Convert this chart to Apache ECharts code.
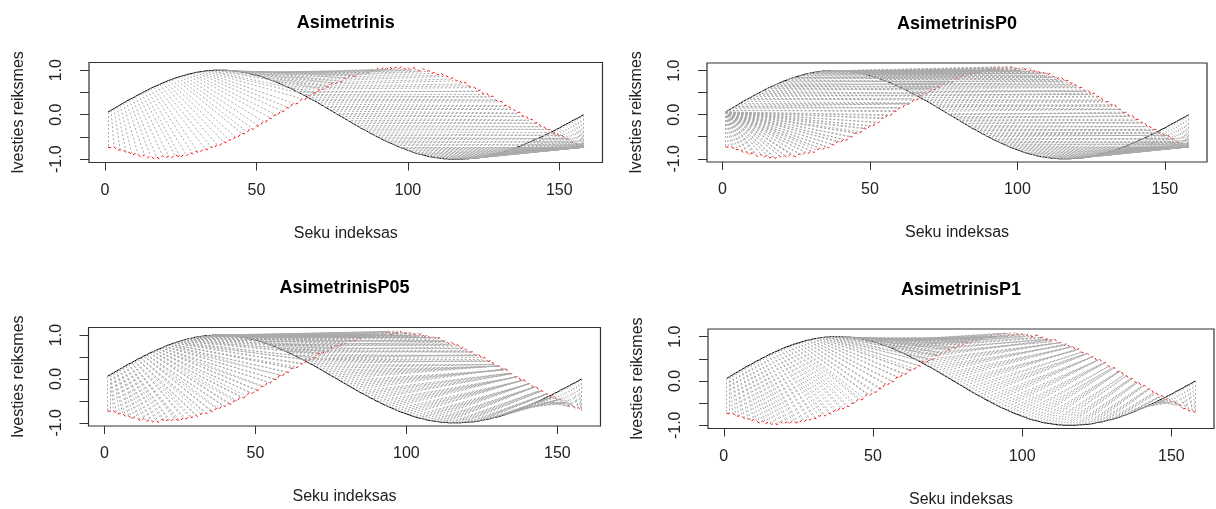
<!DOCTYPE html>
<html>
<head>
<meta charset="utf-8">
<script src="https://cdn.jsdelivr.net/npm/echarts@6/dist/echarts.min.js"></script>
<style>
html, body { margin: 0; padding: 0; background: #ffffff; }
#chart { width: 1216px; height: 509px; }
</style>
</head>
<body>
<div id="chart"></div>
<script>
// Query series (black, solid), one value per index 1..158
const queryValues = [
  0.06, 0.10, 0.14, 0.18, 0.22, 0.26, 0.30, 0.34, 0.37, 0.41,
  0.45, 0.48, 0.52, 0.55, 0.59, 0.62, 0.65, 0.68, 0.71, 0.74,
  0.77, 0.79, 0.82, 0.84, 0.86, 0.88, 0.90, 0.92, 0.93, 0.95,
  0.96, 0.97, 0.98, 0.99, 0.99, 1.00, 1.00, 1.00,
  1.00, 1.00, 0.99, 0.99, 0.98, 0.97, 0.96, 0.95, 0.94, 0.92,
  0.90, 0.89, 0.87, 0.85, 0.82, 0.80, 0.77, 0.75, 0.72, 0.69,
  0.66, 0.63, 0.60, 0.57, 0.53, 0.50, 0.46, 0.43, 0.39, 0.35,
  0.32, 0.28, 0.24, 0.20, 0.16, 0.12, 0.08, 0.04, 0.00, -0.04,
  -0.08, -0.12, -0.16, -0.20, -0.24, -0.28, -0.32, -0.35, -0.39, -0.43,
  -0.46, -0.50, -0.53, -0.57, -0.60, -0.63, -0.66, -0.69, -0.72, -0.75,
  -0.77, -0.80, -0.82, -0.85, -0.87, -0.89, -0.90, -0.92, -0.94, -0.95,
  -0.96, -0.97, -0.98, -0.99, -0.99, -1.00, -1.00, -1.00,
  -1.00, -1.00, -0.99, -0.99, -0.98, -0.98, -0.97, -0.96, -0.94, -0.93,
  -0.92, -0.90, -0.88, -0.87, -0.85, -0.83, -0.81, -0.78, -0.76, -0.73,
  -0.71, -0.68, -0.65, -0.62, -0.59, -0.56, -0.53, -0.50, -0.47, -0.43,
  -0.40, -0.37, -0.33, -0.30, -0.26, -0.22, -0.19, -0.15, -0.11, -0.08,
  -0.04, 0.00
];

// Reference series (red, dashed), one value per index 1..158
const referenceValues = [
  -0.73, -0.74, -0.72, -0.80, -0.79, -0.78, -0.86, -0.84, -0.91, -0.87,
  -0.90, -0.96, -0.90, -0.97, -0.92, -0.98, -0.95, -0.99, -0.92, -0.97,
  -0.93, -0.97, -0.90, -0.93, -0.96, -0.89, -0.92, -0.85, -0.88, -0.82,
  -0.86, -0.80, -0.76, -0.79, -0.72, -0.75, -0.67, -0.69, -0.60, -0.63,
  -0.56, -0.58, -0.50, -0.50, -0.41, -0.43, -0.39, -0.30, -0.33, -0.25,
  -0.26, -0.17, -0.18, -0.07, -0.09, 0.00, -0.02, 0.09, 0.07, 0.16,
  0.15, 0.25, 0.24, 0.27, 0.36, 0.33, 0.44, 0.42, 0.49, 0.48,
  0.59, 0.56, 0.64, 0.62, 0.72, 0.69, 0.76, 0.73, 0.83, 0.80,
  0.89, 0.86, 0.87, 0.95, 0.91, 0.98, 0.94, 1.01, 0.98, 1.04,
  0.99, 1.07, 1.02, 1.08, 1.01, 1.07, 1.03, 1.09, 1.02, 1.06,
  1.00, 1.06, 1.01, 0.98, 1.04, 0.97, 0.99, 0.93, 0.96, 0.89,
  0.94, 0.86, 0.87, 0.80, 0.84, 0.76, 0.78, 0.69, 0.73, 0.65,
  0.61, 0.62, 0.53, 0.56, 0.46, 0.49, 0.40, 0.42, 0.33, 0.29,
  0.30, 0.20, 0.23, 0.13, 0.12, 0.04, 0.06, -0.04, -0.02, -0.12,
  -0.10, -0.19, -0.17, -0.27, -0.27, -0.35, -0.33, -0.42, -0.40, -0.48,
  -0.46, -0.55, -0.54, -0.63, -0.61, -0.68, -0.65, -0.73
];

const panelTitles = ['Asimetrinis', 'AsimetrinisP0', 'AsimetrinisP05', 'AsimetrinisP1'];
const xTickValues = [0, 50, 100, 150];
const yTickValues = [-1, -0.5, 0, 0.5, 1];
const yLabelValues = [-1, 0, 1];
const xAxisTitle = 'Seku indeksas';
const yAxisTitle = 'Ivesties reiksmes';

// Step patterns (query offset di, reference offset dj, weight); first row is the origin cell.
const stepPatterns = {
  Asimetrinis: [
    [[1, 0, -1], [0, 0, 1]],
    [[1, 1, -1], [0, 0, 1]],
    [[1, 2, -1], [0, 0, 1]]
  ],
  AsimetrinisP0: [
    [[0, 1, -1], [0, 0, 0]],
    [[1, 1, -1], [0, 0, 1]],
    [[1, 0, -1], [0, 0, 1]]
  ],
  AsimetrinisP05: [
    [[1, 3, -1], [0, 2, 1 / 3], [0, 1, 1 / 3], [0, 0, 1 / 3]],
    [[1, 2, -1], [0, 1, 0.5], [0, 0, 0.5]],
    [[1, 1, -1], [0, 0, 1]],
    [[2, 1, -1], [1, 0, 1], [0, 0, 1]],
    [[3, 1, -1], [2, 0, 1], [1, 0, 1], [0, 0, 1]]
  ],
  AsimetrinisP1: [
    [[1, 2, -1], [0, 1, 0.5], [0, 0, 0.5]],
    [[1, 1, -1], [0, 0, 1]],
    [[2, 1, -1], [1, 0, 1], [0, 0, 1]]
  ]
};

// Dynamic time warping alignment of query against reference for a step pattern.
function warpingPath(x, y, pattern) {
  const n = x.length, m = y.length;
  const dist = (i, j) => Math.abs(x[i] - y[j]);
  const cost = [], dir = [];
  for (let i = 0; i < n; i++) {
    cost.push(new Float64Array(m).fill(Infinity));
    dir.push(new Int8Array(m).fill(-1));
  }
  cost[0][0] = dist(0, 0);
  for (let i = 0; i < n; i++) {
    for (let j = 0; j < m; j++) {
      if (i === 0 && j === 0) continue;
      let best = Infinity, bestS = -1;
      for (let s = 0; s < pattern.length; s++) {
        const steps = pattern[s];
        const oi = i - steps[0][0], oj = j - steps[0][1];
        if (oi < 0 || oj < 0) continue;
        let c = cost[oi][oj];
        if (!isFinite(c)) continue;
        for (let k = 1; k < steps.length; k++) {
          c += steps[k][2] * dist(i - steps[k][0], j - steps[k][1]);
        }
        if (c < best) { best = c; bestS = s; }
      }
      cost[i][j] = best;
      dir[i][j] = bestS;
    }
  }
  const path = [[n - 1, m - 1]];
  let i = n - 1, j = m - 1;
  while ((i > 0 || j > 0) && dir[i][j] >= 0) {
    const steps = pattern[dir[i][j]];
    for (let k = steps.length - 2; k >= 0; k--) {
      path.push([i - steps[k][0], j - steps[k][1]]);
    }
    const ni = i - steps[0][0], nj = j - steps[0][1];
    i = ni; j = nj;
  }
  return path;
}

// Plot-region boxes of the four panels (pixels)
const boxes = [
  { left: 89, top: 62.5, right: 602.5, bottom: 162.5 },
  { left: 707, top: 63, right: 1207, bottom: 162 },
  { left: 88.5, top: 327.5, right: 600.5, bottom: 426 },
  { left: 708, top: 329, right: 1214, bottom: 428.5 }
];

const FONT = 'Liberation Sans, Arial, sans-serif';
const xMin = -5.28, xMax = 164.28;
const yMin = -1.073, yMax = 1.173;

const grids = [], xAxes = [], yAxes = [], series = [], graphics = [];

panelTitles.forEach((title, p) => {
  const b = boxes[p];
  grids.push({
    left: b.left, top: b.top,
    width: b.right - b.left, height: b.bottom - b.top,
    show: true, borderColor: '#333333', borderWidth: 1.2,
    backgroundColor: 'transparent', containLabel: false
  });
  xAxes.push({
    gridIndex: p, type: 'value', min: xMin, max: xMax, position: 'bottom',
    splitLine: { show: false },
    axisLine: { show: false, onZero: false },
    axisTick: { show: true, inside: false, length: 8, customValues: xTickValues,
      lineStyle: { color: '#333333', width: 1 } },
    axisLabel: { show: true, customValues: xTickValues, margin: 20,
      fontFamily: FONT, fontSize: 16, color: '#222222' },
    name: xAxisTitle, nameLocation: 'middle', nameGap: 63,
    nameTextStyle: { fontFamily: FONT, fontSize: 16, color: '#222222' }
  });
  yAxes.push({
    gridIndex: p, type: 'value', min: yMin, max: yMax, position: 'left',
    splitLine: { show: false },
    axisLine: { show: false, onZero: false },
    axisTick: { show: true, inside: false, length: 9, customValues: yTickValues,
      lineStyle: { color: '#333333', width: 1 } },
    axisLabel: { show: true, customValues: yLabelValues, rotate: 90, margin: 24,
      fontFamily: FONT, fontSize: 16, color: '#222222',
      formatter: v => v.toFixed(1) },
    name: yAxisTitle, nameLocation: 'middle', nameGap: 62, nameRotate: 90,
    nameTextStyle: { fontFamily: FONT, fontSize: 16, color: '#222222' }
  });

  series.push({
    type: 'line', xAxisIndex: p, yAxisIndex: p,
    data: queryValues.map((v, k) => [k + 1, v]),
    showSymbol: false, symbol: 'none', silent: true, z: 2,
    lineStyle: { color: '#000000', width: 1, type: 'solid' }
  });
  series.push({
    type: 'line', xAxisIndex: p, yAxisIndex: p,
    data: referenceValues.map((v, k) => [k + 1, v]),
    showSymbol: false, symbol: 'none', silent: true, z: 2,
    lineStyle: { color: '#ff0000', width: 1, type: [3, 3] }
  });

  const path = warpingPath(queryValues, referenceValues, stepPatterns[title]);
  series.push({
    type: 'lines', coordinateSystem: 'cartesian2d', xAxisIndex: p, yAxisIndex: p,
    silent: true, z: 3,
    lineStyle: { color: '#aaaaaa', width: 1, type: [2, 2], opacity: 1 },
    data: path.map(([i, j]) => ({ coords: [[i + 1, queryValues[i]], [j + 1, referenceValues[j]]] }))
  });

  graphics.push({
    type: 'text',
    x: (b.left + b.right) / 2,
    y: b.top - 39,
    style: { text: title, font: 'bold 18px ' + FONT, fill: '#000000',
      textAlign: 'center', textVerticalAlign: 'middle' }
  });
});

const chart = echarts.init(document.getElementById('chart'), null, { renderer: 'canvas' });
chart.setOption({
  animation: false,
  backgroundColor: '#ffffff',
  grid: grids,
  xAxis: xAxes,
  yAxis: yAxes,
  series: series,
  graphic: graphics
});
</script>
</body>
</html>
